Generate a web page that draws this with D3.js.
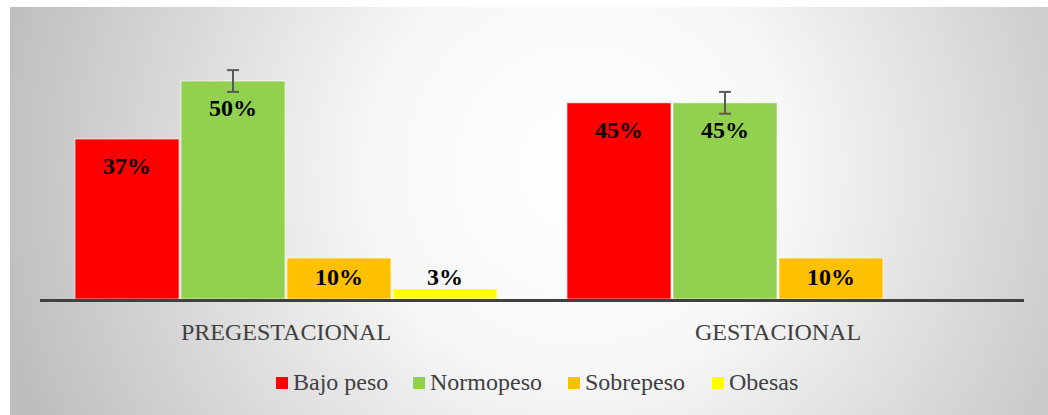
<!DOCTYPE html>
<html>
<head>
<meta charset="utf-8">
<script src="https://cdn.jsdelivr.net/npm/d3@7"></script>
<style>
  body { margin: 0; background: #fff; }
  text { font-family: 'Liberation Serif', 'Times New Roman', serif; }
</style>
</head>
<body>
<script>
const groups = ['PREGESTACIONAL', 'GESTACIONAL']
const series = ['Bajo peso', 'Normopeso', 'Sobrepeso', 'Obesas']
const colors = ['#ff0000', '#92d050', '#ffc000', '#ffff00']
const pregestacional = [36.7, 50, 9.4, 2.3]
const gestacional = [45, 45, 9.4, null]
const pregestacionalLabels = ['37%', '50%', '10%', '3%']
const gestacionalLabels = ['45%', '45%', '10%', '']
const errorBars = [null, 2.5, null, null]

const width = 1048
const height = 415

const data = []
groups.forEach((g, gi) => {
  const vals = gi === 0 ? pregestacional : gestacional
  const labs = gi === 0 ? pregestacionalLabels : gestacionalLabels
  series.forEach((s, si) => {
    if (vals[si] != null) {
      data.push({ group: g, series: s, value: vals[si], label: labs[si], err: errorBars[si], color: colors[si] })
    }
  })
})

const svg = d3.select('body').append('svg')
  .attr('width', width)
  .attr('height', height)

const defs = svg.append('defs')
const grad = defs.append('radialGradient')
  .attr('id', 'bg')
  .attr('gradientUnits', 'userSpaceOnUse')
  .attr('cx', 580).attr('cy', 170).attr('r', 600)
grad.append('stop').attr('offset', '0%').attr('stop-color', '#ffffff')
grad.append('stop').attr('offset', '35%').attr('stop-color', '#f7f7f7')
grad.append('stop').attr('offset', '100%').attr('stop-color', '#bdbdbd')

svg.append('rect')
  .attr('x', 10)
  .attr('y', 7)
  .attr('width', width - 10)
  .attr('height', height - 7)
  .style('fill', 'url(#bg)')

const baseline = 299
const xScale = d3.scaleBand()
  .domain(groups)
  .range([40, 1024])

const xInner = d3.scaleBand()
  .domain(series)
  .range([35, 457])
  .paddingInner(0.019)

const yScale = d3.scaleLinear()
  .domain([0, 50])
  .range([baseline, 81])

const cx = d => xScale(d.group) + xInner(d.series) + xInner.bandwidth() / 2

svg.selectAll('.bar')
  .data(data)
  .enter().append('rect')
  .attr('class', 'bar')
  .attr('x', d => xScale(d.group) + xInner(d.series))
  .attr('y', d => yScale(d.value))
  .attr('width', xInner.bandwidth())
  .attr('height', d => baseline - yScale(d.value))
  .style('fill', d => d.color)
  .style('stroke', '#ffffff')
  .style('stroke-opacity', 0.6)
  .style('stroke-width', 1)

const errs = data.filter(d => d.err)
const errG = svg.selectAll('.err')
  .data(errs)
  .enter().append('g')
  .attr('class', 'err')
  .style('stroke', '#595959')
  .style('stroke-width', 2)
errG.append('line')
  .attr('x1', cx)
  .attr('x2', cx)
  .attr('y1', d => yScale(d.value + d.err))
  .attr('y2', d => yScale(d.value - d.err))
errG.selectAll('.cap')
  .data(d => [d.value + d.err, d.value - d.err].map(v => ({ d, v })))
  .enter().append('line')
  .attr('class', 'cap')
  .attr('x1', e => cx(e.d) - 6)
  .attr('x2', e => cx(e.d) + 6)
  .attr('y1', e => yScale(e.v))
  .attr('y2', e => yScale(e.v))

// labels inside the bar end, clamped near the base; very short bars get them above
svg.selectAll('.label')
  .data(data)
  .enter().append('text')
  .attr('class', 'label')
  .attr('x', cx)
  .attr('y', d => baseline - yScale(d.value) > 30
    ? Math.min(yScale(d.value) + 35, baseline - 14)
    : yScale(d.value) - 4)
  .attr('text-anchor', 'middle')
  .style('font-size', '24px')
  .style('font-weight', 'bold')
  .style('fill', '#000')
  .text(d => d.label)

const xAxis = svg.append('g')
  .attr('transform', `translate(0, ${baseline})`)
  .call(d3.axisBottom(xScale).tickSize(0))
xAxis.select('.domain')
  .attr('d', `M40,1.5H1024`)
  .style('stroke', '#404040')
  .style('stroke-width', 3)
xAxis.selectAll('.tick text')
  .attr('y', 41)
  .attr('dy', 0)
  .style('font-family', "'Liberation Serif', serif")
  .style('font-size', '24px')
  .style('fill', '#404040')

const legendX = [276, 413, 568, 712]
const legend = svg.selectAll('.legend')
  .data(series)
  .enter().append('g')
  .attr('class', 'legend')
  .attr('transform', (d, i) => `translate(${legendX[i]}, 377)`)
legend.append('rect')
  .attr('x', 0)
  .attr('y', 0)
  .attr('width', 12)
  .attr('height', 12)
  .style('fill', (d, i) => colors[i])
legend.append('text')
  .attr('x', 17)
  .attr('y', 13)
  .style('font-size', '24px')
  .style('fill', '#404040')
  .text(d => d)
</script>
</body>
</html>
